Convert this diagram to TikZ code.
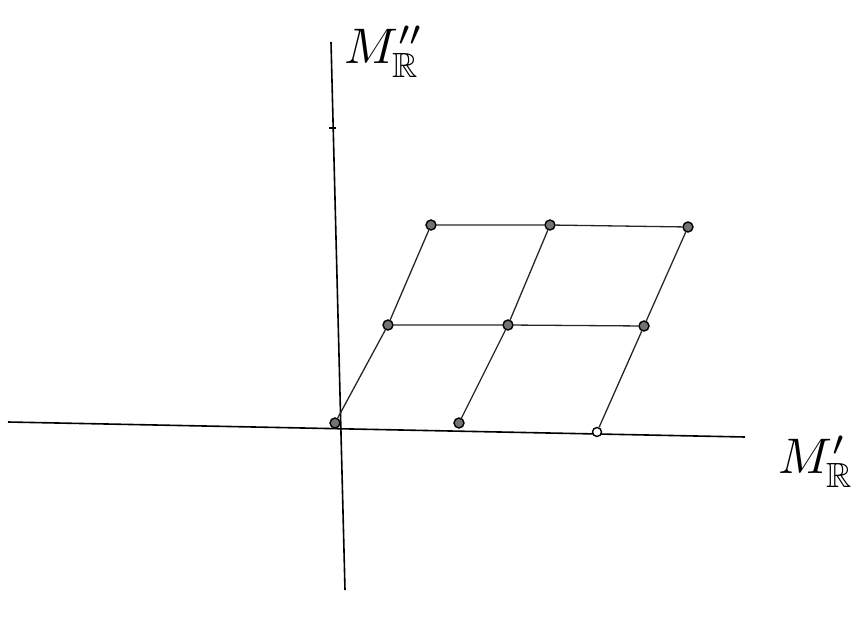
\documentclass[tikz,border=0pt]{standalone}
\usepackage{amssymb}
\usepackage{graphicx}
\begin{document}
\begin{tikzpicture}[x=1pt,y=-1pt,
  pt/.style={circle,draw=black,line width=1.4pt,fill=black!55,inner sep=0pt,minimum size=10pt},
  axis/.style={line width=1.6pt,black},
  grid/.style={line width=1.3pt,black!85},
  lab/.style={inner sep=0pt}]
\useasboundingbox (0,0) rectangle (857,621);
\coordinate (xl) at (8,422);
\coordinate (xr) at (745,437);
\coordinate (yt) at (331,42);
\coordinate (yb) at (345,590);
\draw[axis] (xl) -- (xr);
\draw[axis] (yt) -- (yb);
\draw[line width=1.4pt] (329,128) -- (336,128);
\node[pt] (a0) at (335,423) {};
\node[pt] (a1) at (459,423) {};
\node[pt,fill=white,minimum size=9pt] (a2) at (597,432) {};
\node[pt] (b0) at (388,325) {};
\node[pt] (b1) at (508,325) {};
\node[pt] (b2) at (644,326) {};
\node[pt] (c0) at (431,225) {};
\node[pt] (c1) at (550,225) {};
\node[pt] (c2) at (688,227) {};
\draw[grid] (a0) -- (b0) -- (c0);
\draw[grid] (a1) -- (b1) -- (c1);
\draw[grid] (a2) -- (b2) -- (c2);
\draw[grid] (b0) -- (b1) -- (b2);
\draw[grid] (c0) -- (c1) -- (c2);
\node[lab,anchor=north west] (ly) at (344,26) {\scalebox{5}{$M''_{\mathbb{R}}$}};
\node[lab,anchor=north west] (lx) at (778,436) {\scalebox{5}{$M'_{\mathbb{R}}$}};
\end{tikzpicture}
\end{document}
